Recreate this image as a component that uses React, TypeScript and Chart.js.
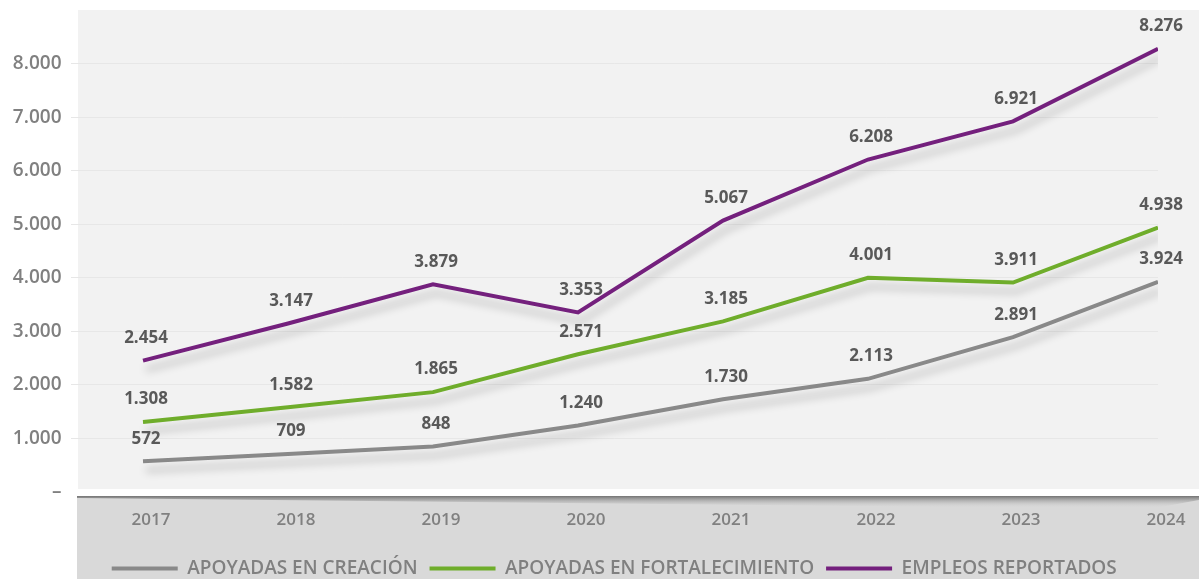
import React, { useEffect, useRef } from 'react';
import { Chart, registerables } from 'chart.js';

Chart.register(...registerables);

const years = [2017, 2018, 2019, 2020, 2021, 2022, 2023, 2024];
const creacion = [572, 709, 848, 1240, 1730, 2113, 2891, 3924];
const fortalecimiento = [1308, 1582, 1865, 2571, 3185, 4001, 3911, 4938];
const empleos = [2454, 3147, 3879, 3353, 5067, 6208, 6921, 8276];
const seriesNames = ['APOYADAS EN CREACIÓN', 'APOYADAS EN FORTALECIMIENTO', 'EMPLEOS REPORTADOS'];
const seriesColors = ['#898989', '#6fad2b', '#74207d'];
const yMax = 9000;
const yStep = 1000;

const FONT = '"Open Sans", "Noto Sans", sans-serif';

const fmt = (v: number) => String(Math.round(v)).replace(/\B(?=(\d{3})+(?!\d))/g, '.');

const W = 1199;
const H = 579;

const backgroundPlugin = {
  id: 'bgPanels',
  beforeDraw(chart: any) {
    const ctx = chart.ctx;
    ctx.save();
    ctx.fillStyle = '#ffffff';
    ctx.fillRect(0, 0, W, H);
    ctx.fillStyle = '#f2f2f2';
    ctx.fillRect(78, 10, W - 78, 479);
    ctx.fillStyle = '#d9d9d9';
    ctx.fillRect(77, 496, W - 77, H - 496);
    const g = ctx.createLinearGradient(0, 496, 0, 508);
    g.addColorStop(0, 'rgba(110,110,110,0.95)');
    g.addColorStop(1, 'rgba(217,217,217,0)');
    ctx.fillStyle = g;
    ctx.beginPath();
    ctx.moveTo(77, 496);
    ctx.lineTo(W, 496);
    ctx.lineTo(W, 500);
    ctx.lineTo(1150, 509);
    ctx.lineTo(77, 498);
    ctx.closePath();
    ctx.fill();
    ctx.restore();
  },
};

const shadowPlugin = {
  id: 'lineShadow',
  beforeDatasetsDraw(chart: any) {
    const ctx = chart.ctx;
    ctx.save();
    ctx.shadowColor = 'rgba(0,0,0,0.22)';
    ctx.shadowBlur = 9;
    ctx.shadowOffsetX = 3;
    ctx.shadowOffsetY = 9;
  },
  afterDatasetsDraw(chart: any) {
    chart.ctx.restore();
  },
};

const valueLabelPlugin = {
  id: 'valueLabels',
  afterDatasetsDraw(chart: any) {
    const ctx = chart.ctx;
    ctx.save();
    ctx.font = `700 17px ${FONT}`;
    ctx.fillStyle = '#595959';
    ctx.textAlign = 'center';
    ctx.textBaseline = 'bottom';
    chart.data.datasets.forEach((ds: any, i: number) => {
      const meta = chart.getDatasetMeta(i);
      meta.data.forEach((pt: any, j: number) => {
        const v = ds.data[j].y;
        ctx.fillText(fmt(v), pt.x + 3, pt.y - 14);
      });
    });
    ctx.restore();
  },
};

export default function App() {
  const ref = useRef<HTMLCanvasElement | null>(null);

  useEffect(() => {
    document.body.style.margin = '0';
    if (!ref.current) return;
    const seriesValues = [creacion, fortalecimiento, empleos];
    const chart = new Chart(ref.current, {
      type: 'line',
      data: {
        datasets: seriesValues.map((vals, i) => ({
          label: seriesNames[i],
          data: vals.map((v, j) => ({ x: years[j], y: v })),
          borderColor: seriesColors[i],
          backgroundColor: seriesColors[i],
          borderWidth: 4,
          pointRadius: 0,
          pointHoverRadius: 0,
          tension: 0,
          fill: false,
          borderJoinStyle: 'miter' as const,
        })),
      },
      options: {
        animation: false,
        responsive: false,
        devicePixelRatio: 1,
        layout: { padding: { top: 10, right: 41, left: 0, bottom: -9 } },
        scales: {
          x: {
            type: 'linear',
            min: 2016.5,
            max: 2024,
            afterBuildTicks: (scale: any) => {
              scale.ticks = years.map((v) => ({ value: v }));
            },
            afterFit: (scale: any) => {
              scale.height = 55;
            },
            grid: { display: false, drawTicks: false },
            border: { display: false },
            ticks: {
              color: '#808080',
              font: { family: FONT, size: 17, weight: 600 },
              padding: 18,
              labelOffset: 8,
              maxRotation: 0,
              autoSkip: false,
              callback: (v: any) => String(v),
            },
          },
          y: {
            min: 0,
            max: yMax,
            afterFit: (scale: any) => {
              scale.width = 70.5;
              scale.paddingTop = 0;
            },
            grid: {
              drawTicks: false,
              color: (c: any) =>
                c.tick && (c.tick.value === 0 || c.tick.value === yMax) ? 'rgba(0,0,0,0)' : '#e7e7e7',
              lineWidth: 1,
            },
            border: { display: false },
            ticks: {
              stepSize: yStep,
              color: '#808080',
              padding: 9,
              font: { family: FONT, size: 19, weight: 600 },
              callback: (v: any) => (v === 0 ? '–' : v === yMax ? '' : fmt(Number(v))),
            },
          },
        },
        plugins: {
          legend: {
            display: true,
            position: 'bottom',
            fullSize: false,
            labels: {
              boxWidth: 66,
              boxHeight: 4,
              padding: 12,
              color: '#808080',
              font: { family: FONT, size: 19, weight: 600 },
              generateLabels: (c: any) =>
                Chart.defaults.plugins.legend.labels.generateLabels(c).map((it: any) => ({
                  ...it,
                  lineWidth: 0,
                })),
            },
          },
          tooltip: { enabled: false },
        },
      },
      plugins: [backgroundPlugin, shadowPlugin, valueLabelPlugin],
    } as any);
    return () => chart.destroy();
  }, []);

  return <canvas ref={ref} width={W} height={H} style={{ display: 'block', width: W, height: H }} />;
}
